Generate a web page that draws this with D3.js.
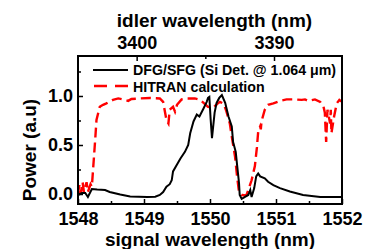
<!DOCTYPE html>
<html><head><meta charset="utf-8">
<script src="https://cdn.jsdelivr.net/npm/d3@7"></script>
<style>body{margin:0;background:#fff}svg{display:block}text{font-family:"Liberation Sans",Arial,sans-serif;font-weight:bold}</style>
</head><body><svg id="c" width="370" height="249"></svg>
<script>
const signalTicks = [1548, 1549, 1550, 1551, 1552];
const signalMinor = [1548.5, 1549.5, 1550.5, 1551.5];
const idlerTicks = [3400, 3390];
const idlerMinor = [3395];
const powerTicks = [0.0, 0.5, 1.0];
const powerMinor = [0.25, 0.75, 1.25];
const legendLabels = ["DFG/SFG (Si Det. @ 1.064 μm)", "HITRAN calculation"];

const dfgWl = [1548.00,1548.06,1548.11,1548.15,1548.21,1548.29,1548.41,1548.48,1548.64,1548.79,1549.05,1549.17,1549.24,1549.29,1549.34,1549.39,1549.42,1549.44,1549.50,1549.55,1549.62,1549.67,1549.70,1549.75,1549.80,1549.84,1549.90,1549.95,1549.97,1549.99,1550.01,1550.03,1550.07,1550.10,1550.14,1550.18,1550.23,1550.28,1550.33,1550.35,1550.39,1550.41,1550.44,1550.45,1550.48,1550.53,1550.58,1550.61,1550.63,1550.67,1550.70,1550.73,1550.76,1550.83,1550.88,1550.96,1551.06,1551.21,1551.41,1551.67,1552.00];
const dfgPow = [-0.01,0.01,0.01,-0.03,0.05,0.045,0.04,0.02,-0.005,-0.025,-0.03,-0.028,-0.01,0.02,0.075,0.10,0.14,0.23,0.30,0.36,0.43,0.50,0.62,0.74,0.81,0.79,0.87,0.94,0.98,0.99,0.76,0.57,0.83,0.93,0.98,1.01,0.93,0.79,0.69,0.53,0.43,0.30,0.11,-0.01,-0.05,-0.03,-0.01,0.04,-0.03,0.06,0.18,0.21,0.18,0.16,0.125,0.09,0.06,0.025,-0.01,-0.03,-0.03];

const hitWl = [1548.00,1548.02,1548.04,1548.07,1548.09,1548.13,1548.15,1548.19,1548.21,1548.26,1548.28,1548.33,1548.38,1548.43,1548.53,1548.61,1548.68,1548.76,1548.81,1548.94,1549.09,1549.24,1549.29,1549.34,1549.37,1549.39,1549.44,1549.47,1549.50,1549.57,1549.65,1549.77,1549.85,1549.92,1549.97,1550.05,1550.11,1550.15,1550.21,1550.25,1550.30,1550.33,1550.38,1550.41,1550.44,1550.48,1550.55,1550.58,1550.63,1550.68,1550.71,1550.73,1550.76,1550.77,1550.78,1550.83,1550.88,1550.96,1551.06,1551.16,1551.29,1551.39,1551.44,1551.49,1551.59,1551.67,1551.72,1551.74,1551.76,1551.78,1551.82,1551.83,1551.84,1551.88,1551.92,1551.96,1552.00];
const hitPow = [0.0,0.09,0.0,0.12,0.02,0.12,0.02,0.10,0.075,0.55,0.755,0.89,0.91,0.925,0.96,0.975,0.965,0.95,0.97,0.975,0.98,0.975,0.94,0.755,0.72,0.86,0.89,0.84,0.91,0.965,0.975,0.975,0.96,0.92,0.89,0.88,0.92,0.94,0.92,0.84,0.72,0.585,0.38,0.18,0.02,-0.01,-0.015,0.04,0.14,0.285,0.47,0.635,0.69,0.66,0.74,0.86,0.91,0.925,0.95,0.965,0.965,0.96,0.965,0.95,0.965,0.94,0.89,0.83,0.53,0.86,0.72,0.86,0.62,0.79,0.925,0.96,0.94];

const L = 78, R = 342, T = 56, B = 204;
const svg = d3.select("#c");
const x = d3.scaleLinear().domain([1548, 1552]).range([L, R]);
const xTop = d3.scaleLinear().domain([3404.27, 3385.05]).range([L, R]);
const y = d3.scaleLinear().domain([-0.102, 1.408]).range([B, T]);

svg.append("defs").append("clipPath").attr("id", "clip")
  .append("rect").attr("x", L).attr("y", T).attr("width", R - L).attr("height", B - T);

const black = dfgWl.map((d, i) => [d, dfgPow[i]]);
const red = hitWl.map((d, i) => [d, hitPow[i]]);
const line = d3.line().x(d => x(d[0])).y(d => y(d[1]));

const g = svg.append("g").attr("clip-path", "url(#clip)");
g.append("path").datum(red).attr("d", line).attr("fill", "none")
  .attr("stroke", "#ff0000").attr("stroke-width", 2.4).attr("stroke-dasharray", "10,5");
g.append("path").datum(black).attr("d", line).attr("fill", "none")
  .attr("stroke", "#000").attr("stroke-width", 2);

const axB = svg.append("g").attr("transform", `translate(0,${B})`)
  .call(d3.axisBottom(x).tickValues(signalTicks).tickSizeInner(-5).tickSizeOuter(0).tickFormat(d3.format("d")).tickPadding(8));
const axBm = svg.append("g").attr("transform", `translate(0,${B})`)
  .call(d3.axisBottom(x).tickValues(signalMinor).tickSizeInner(-3).tickSizeOuter(0).tickFormat(""));
const axT = svg.append("g").attr("transform", `translate(0,${T})`)
  .call(d3.axisTop(xTop).tickValues(idlerTicks).tickSizeInner(-5).tickSizeOuter(0).tickFormat(d3.format("d")).tickPadding(7));
const axTm = svg.append("g").attr("transform", `translate(0,${T})`)
  .call(d3.axisTop(xTop).tickValues(idlerMinor).tickSizeInner(-3).tickSizeOuter(0).tickFormat(""));
const axL = svg.append("g").attr("transform", `translate(${L},0)`)
  .call(d3.axisLeft(y).tickValues(powerTicks).tickSizeInner(-5).tickSizeOuter(0).tickFormat(d3.format(".1f")).tickPadding(5));
const axLm = svg.append("g").attr("transform", `translate(${L},0)`)
  .call(d3.axisLeft(y).tickValues(powerMinor).tickSizeInner(-3).tickSizeOuter(0).tickFormat(""));
[axB, axBm, axT, axTm, axL, axLm].forEach(a => {
  a.select(".domain").remove();
  a.selectAll("line").attr("stroke", "#000").attr("stroke-width", 1.5);
  a.selectAll("text").attr("font-size", 18).attr("font-weight", "bold").attr("fill", "#000")
    .attr("font-family", '"Liberation Sans", Arial, sans-serif');
});

svg.append("rect").attr("x", L).attr("y", T).attr("width", R - L).attr("height", B - T)
  .attr("fill", "none").attr("stroke", "#000").attr("stroke-width", 2);

svg.append("text").attr("x", 210).attr("y", 246).attr("text-anchor", "middle").attr("font-size", 19).text("signal wavelength (nm)");
svg.append("text").attr("x", 214.5).attr("y", 27).attr("text-anchor", "middle").attr("font-size", 19).text("idler wavelength (nm)");
svg.append("text").attr("transform", "translate(36,150) rotate(-90)").attr("text-anchor", "middle").attr("font-size", 19).text("Power (a.u)");

const lg = svg.append("g");
lg.append("line").attr("x1", 93).attr("x2", 128).attr("y1", 70).attr("y2", 70).attr("stroke", "#000").attr("stroke-width", 2);
lg.append("line").attr("x1", 94).attr("x2", 128).attr("y1", 86).attr("y2", 86).attr("stroke", "#ff0000").attr("stroke-width", 2.4).attr("stroke-dasharray", "13,8");
lg.append("text").attr("x", 133).attr("y", 75).attr("font-size", 14.2).text(legendLabels[0]);
lg.append("text").attr("x", 133).attr("y", 92).attr("font-size", 14.2).text(legendLabels[1]);
</script></body></html>
